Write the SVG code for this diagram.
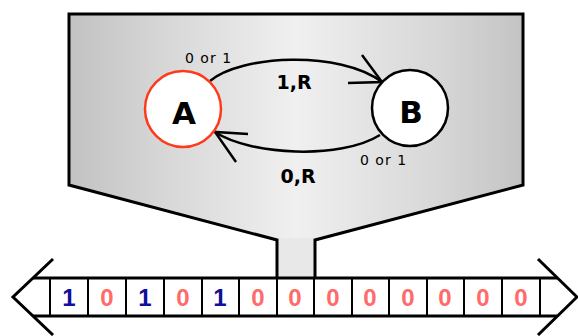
<svg xmlns="http://www.w3.org/2000/svg" width="578" height="336" viewBox="0 0 578 336">
  <defs>
    <linearGradient id="headFill" x1="0" y1="0" x2="1" y2="0">
      <stop offset="0" stop-color="#c2c2c2"/>
      <stop offset="0.2" stop-color="#d6d6d6"/>
      <stop offset="0.5" stop-color="#f0f0f0"/>
      <stop offset="0.8" stop-color="#d8d8d8"/>
      <stop offset="1" stop-color="#c4c4c4"/>
    </linearGradient>
  </defs>
  <style>
    .outline { fill: none; stroke: #000; stroke-width: 3; stroke-linejoin: miter; }
    .edge { fill: none; stroke: #000; stroke-width: 2.5; stroke-linecap: butt; }
    .small { font-family: "DejaVu Sans", "Liberation Sans", sans-serif; font-size: 14px; letter-spacing: 1px; fill: #000; }
    .bold { font-family: "DejaVu Sans", "Liberation Sans", sans-serif; font-weight: bold; fill: #000; }
    .cell { fill: none; stroke: #000; stroke-width: 2; }
    .digit { font-family: "Liberation Sans", Arial, sans-serif; font-weight: bold; font-size: 24px; text-anchor: middle; }
    .one { fill: #10109a; }
    .zero { fill: #ff6a6a; }
  </style>

  <!-- machine head with neck -->
  <g id="head">
    <polygon points="69,14 523,14 523,185 315,240 277,240 69,185" fill="url(#headFill)"/>
    <rect x="277" y="238" width="38" height="40" fill="#e8e8e8"/>
    <path class="outline" d="M277,278 V240 L69,185 V14 H523 V185 L315,240 V278"/>
  </g>

  <!-- transitions -->
  <g id="connectors">
    <path class="edge" d="M210,81 C240,55 340,50 382,82"/>
    <path class="edge" d="M362,55 L382,82 L348,83"/>
    <path class="edge" d="M380,135 C340,160 250,155 215,132"/>
    <path class="edge" d="M248,134 L215,132 L236,162"/>
    <text class="small" x="185" y="63">0 or 1</text>
    <text class="bold" x="294" y="89" font-size="19" text-anchor="middle">1,R</text>
    <text class="small" x="360" y="165">0 or 1</text>
    <text class="bold" x="298" y="183" font-size="19" text-anchor="middle">0,R</text>
  </g>

  <g id="A">
    <circle cx="183" cy="109" r="38" fill="#fff" stroke="#ff3a1a" stroke-width="2.5"/>
    <text class="bold" x="184" y="124" font-size="31" text-anchor="middle">A</text>
  </g>
  <g id="B">
    <circle cx="410" cy="108" r="38" fill="#fff" stroke="#000" stroke-width="2.5"/>
    <text class="bold" x="411" y="123" font-size="31" text-anchor="middle">B</text>
  </g>

  <!-- tape -->
  <g id="tape">
    <rect x="33" y="278" width="524" height="38" fill="#fff"/>
    <path class="outline" d="M53,259 L13,297 L53,335"/>
    <path class="outline" d="M538,259 L577,297 L538,335"/>
    <path class="outline" d="M33,278 H557 M33,316 H557"/>
    <path class="cell" d="M50,278V316 M88,278V316 M126,278V316 M164,278V316 M202,278V316 M239,278V316 M277,278V316 M314,278V316 M352,278V316 M389,278V316 M427,278V316 M464,278V316 M502,278V316 M540,278V316"/>
    <text class="digit one" x="69" y="306">1</text>
    <text class="digit zero" x="107" y="306">0</text>
    <text class="digit one" x="145" y="306">1</text>
    <text class="digit zero" x="183" y="306">0</text>
    <text class="digit one" x="220" y="306">1</text>
    <text class="digit zero" x="258" y="306">0</text>
    <text class="digit zero" x="295" y="306">0</text>
    <text class="digit zero" x="333" y="306">0</text>
    <text class="digit zero" x="370" y="306">0</text>
    <text class="digit zero" x="408" y="306">0</text>
    <text class="digit zero" x="445" y="306">0</text>
    <text class="digit zero" x="483" y="306">0</text>
    <text class="digit zero" x="521" y="306">0</text>
  </g>
</svg>
